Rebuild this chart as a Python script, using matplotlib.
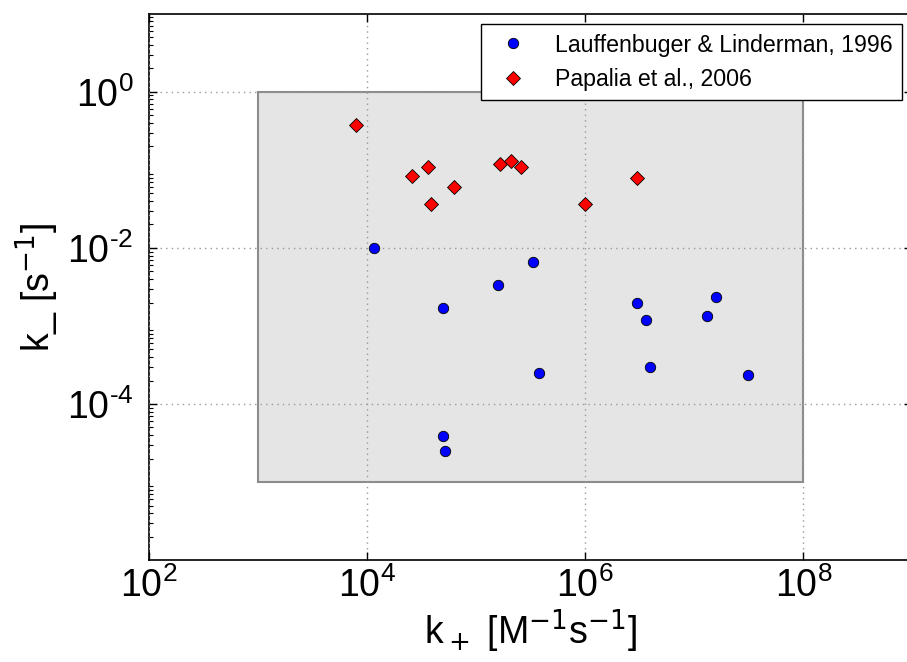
import matplotlib
matplotlib.use("Agg")
import numpy as np
import matplotlib.pyplot as plt
from matplotlib.patches import Rectangle
from matplotlib.ticker import FuncFormatter

# association / dissociation rate constants
lauff_kon = [1.16e4, 4.95e4, 1.59e5, 3.3e5, 2.98e6, 3.63e6, 1.31e7, 1.59e7,
             3.78e5, 3.95e6, 3.14e7, 4.95e4, 5.14e4]
lauff_koff = [1.0e-2, 1.68e-3, 3.34e-3, 6.6e-3, 2.0e-3, 1.2e-3, 1.34e-3, 2.34e-3,
              2.5e-4, 2.98e-4, 2.33e-4, 3.84e-5, 2.51e-5]

papalia_kon = [7.96e3, 2.58e4, 3.66e4, 3.87e4, 6.25e4, 1.67e5, 2.08e5, 2.58e5,
               9.9e5, 2.98e6]
papalia_koff = [0.375, 0.0826, 0.110, 0.037, 0.0604, 0.119, 0.130, 0.110,
                0.037, 0.0787]

# physiological window
box_kon = (1e3, 1e8)
box_koff = (1e-5, 1e0)

x_ticks = [1e2, 1e4, 1e6, 1e8]
y_ticks = [1e-4, 1e-2, 1e0]

plt.rcParams["font.family"] = ["Liberation Sans", "DejaVu Sans"]
plt.rcParams["mathtext.fontset"] = "dejavusans"


def pow10(v, pos):
    e = int(round(np.log10(v)))
    e_str = str(e).replace("-", "\u2010")
    return r"$\mathdefault{10^{%s}}$" % e_str


fig = plt.figure(figsize=(9.07, 6.62), dpi=100)
ax = fig.add_axes([0.164, 0.154, 0.842, 0.825])

ax.set_xscale("log")
ax.set_yscale("log")
ax.set_xlim(1e2, 1e9)
ax.set_ylim(1e-6, 1e1)

ax.add_patch(Rectangle((box_kon[0], box_koff[0]),
                       box_kon[1] - box_kon[0], box_koff[1] - box_koff[0],
                       facecolor="#e5e5e5", edgecolor="#8c8c8c", lw=1.5, zorder=0))

ax.plot(lauff_kon, lauff_koff, "o", color="#0000ff", mec="k", mew=0.6, ms=7.5,
        label="Lauffenbuger & Linderman, 1996", zorder=3)
ax.plot(papalia_kon, papalia_koff, "D", color="#ff0000", mec="k", mew=0.6, ms=7.3,
        label="Papalia et al., 2006", zorder=3)

ax.grid(True, which="major", color="0.6", linestyle=(0, (1, 3)), linewidth=1.0)
ax.set_axisbelow(False)
ax.set_xticks(x_ticks)
ax.set_yticks(y_ticks)
ax.xaxis.set_major_formatter(FuncFormatter(pow10))
ax.yaxis.set_major_formatter(FuncFormatter(pow10))
ax.tick_params(which="both", direction="in", top=True, right=True, labelsize=27)
ax.tick_params(axis="x", pad=5)
ax.tick_params(axis="y", pad=11)
ax.tick_params(which="major", length=6, width=1)
ax.tick_params(which="minor", length=3, width=0.8)
for s in ax.spines.values():
    s.set_linewidth(1.2)

ax.set_xlabel(r"k$_+$ [M$^{-1}$s$^{-1}$]", fontsize=27, labelpad=2)
ax.set_ylabel(r"k_ [s$^{-1}$]", fontsize=27, labelpad=4)

leg = ax.legend(loc="upper right", numpoints=1, fontsize=16.7, fancybox=False,
                framealpha=1, edgecolor="k", borderaxespad=0.45)
leg.get_frame().set_linewidth(1.0)

fig.savefig("out.png", dpi=100)
